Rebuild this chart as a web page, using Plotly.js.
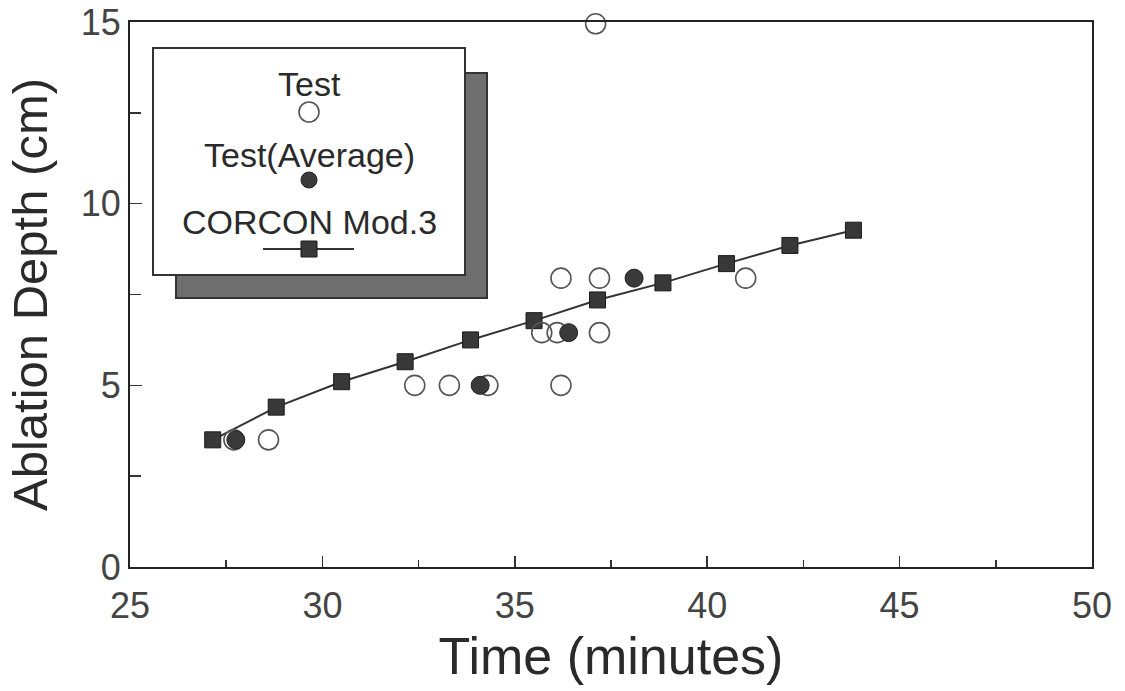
<!DOCTYPE html>
<html>
<head>
<meta charset="utf-8">
<script src="https://cdn.plot.ly/plotly-3.0.1.min.js"></script>
<style>
html,body{margin:0;padding:0;background:#fff;}
#chart{width:1125px;height:691px;}
</style>
</head>
<body>
<div id="chart"></div>
<script>
// Test (individual measurements)
var testTime  = [27.7, 28.6, 32.4, 33.3, 34.3, 36.2, 35.7, 36.1, 37.2, 36.2, 37.2, 41.0, 37.1];
var testDepth = [3.5, 3.5, 5.0, 5.0, 5.0, 5.0, 6.45, 6.45, 6.45, 7.95, 7.95, 7.95, 14.95];

// Test (Average)
var avgTime  = [27.75, 34.1, 36.4, 38.1];
var avgDepth = [3.5, 5.0, 6.45, 7.95];

// CORCON Mod.3 calculation
var corconTime  = [27.15, 28.8, 30.5, 32.15, 33.85, 35.5, 37.15, 38.85, 40.5, 42.15, 43.8];
var corconDepth = [3.5, 4.4, 5.1, 5.65, 6.25, 6.78, 7.35, 7.82, 8.35, 8.85, 9.27];

// Axis ticks and labels
var xTickVals = [25, 30, 35, 40, 45, 50];
var yTickVals = [0, 5, 10, 15];

// Legend labels
var legendLabels = ['Test', 'Test(Average)', 'CORCON Mod.3'];

var FONT = '"Liberation Sans", Arial, Helvetica, sans-serif';
var INK = '#2a2a2a';

var traces = [
  {
    x: corconTime, y: corconDepth, type: 'scatter', mode: 'lines+markers',
    name: legendLabels[2],
    line: {color: '#333', width: 2},
    marker: {symbol: 'square', size: 16, color: '#383838', line: {color: '#1a1a1a', width: 1}},
    cliponaxis: false
  },
  {
    x: testTime, y: testDepth, type: 'scatter', mode: 'markers',
    name: legendLabels[0],
    marker: {symbol: 'circle-open', size: 20, color: '#555', line: {color: '#555', width: 1.6}},
    cliponaxis: false
  },
  {
    x: avgTime, y: avgDepth, type: 'scatter', mode: 'markers',
    name: legendLabels[1],
    marker: {symbol: 'circle', size: 18, color: '#3a3a3a', line: {color: '#222', width: 1}},
    cliponaxis: false
  }
];

// legend drawn as a framed box with shadow (paper coordinates)
function px2paperX(p){ return (p - 130) / 962; }
function px2paperY(p){ return (567 - p) / 545; }
var legCx = px2paperX(309);

var shapes = [
  {type:'rect', xref:'paper', yref:'paper', x0:px2paperX(176), x1:px2paperX(487), y0:px2paperY(298), y1:px2paperY(73),
   fillcolor:'#6e6e6e', line:{color:'#333', width:2}, layer:'above'},
  {type:'rect', xref:'paper', yref:'paper', x0:px2paperX(153), x1:px2paperX(465), y0:px2paperY(275), y1:px2paperY(48),
   fillcolor:'#ffffff', line:{color:'#333', width:2}, layer:'above'},
  {type:'circle', xref:'paper', yref:'paper', xsizemode:'pixel', ysizemode:'pixel',
   xanchor:legCx, yanchor:px2paperY(112), x0:-10, x1:10, y0:-10, y1:10,
   line:{color:'#555', width:1.6}, fillcolor:'rgba(0,0,0,0)', layer:'above'},
  {type:'circle', xref:'paper', yref:'paper', xsizemode:'pixel', ysizemode:'pixel',
   xanchor:legCx, yanchor:px2paperY(180), x0:-8, x1:8, y0:-8, y1:8,
   line:{color:'#222', width:1}, fillcolor:'#3a3a3a', layer:'above'},
  {type:'line', xref:'paper', yref:'paper', x0:px2paperX(263), x1:px2paperX(354), y0:px2paperY(249), y1:px2paperY(249),
   line:{color:'#333', width:2}, layer:'above'},
  {type:'rect', xref:'paper', yref:'paper', xsizemode:'pixel', ysizemode:'pixel',
   xanchor:legCx, yanchor:px2paperY(249), x0:-8, x1:8, y0:-8, y1:8,
   line:{color:'#1a1a1a', width:1}, fillcolor:'#383838', layer:'above'}
];

var annotations = [
  {xref:'paper', yref:'paper', x:legCx, y:px2paperY(84), text:legendLabels[0], showarrow:false,
   xanchor:'center', yanchor:'middle', font:{family:FONT, size:34, color:INK}},
  {xref:'paper', yref:'paper', x:legCx, y:px2paperY(155), text:legendLabels[1], showarrow:false,
   xanchor:'center', yanchor:'middle', font:{family:FONT, size:34, color:INK}},
  {xref:'paper', yref:'paper', x:legCx, y:px2paperY(222), text:legendLabels[2], showarrow:false,
   xanchor:'center', yanchor:'middle', font:{family:FONT, size:34, color:INK}}
];

var layout = {
  width: 1125, height: 691,
  margin: {l:130, r:33, t:22, b:124},
  paper_bgcolor: '#fff', plot_bgcolor: '#fff',
  showlegend: false,
  font: {family: FONT, color: INK},
  xaxis: {
    range: [25, 50], tickvals: xTickVals, ticktext: xTickVals.map(String),
    ticks: 'inside', ticklen: 11, tickwidth: 1.5, tickcolor: '#333',
    minor: {dtick: 2.5, tick0: 25, ticks: 'inside', ticklen: 7, tickwidth: 1.5, tickcolor: '#333', showgrid: false},
    showline: true, linecolor: '#222', linewidth: 2, mirror: true,
    showgrid: false, zeroline: false,
    tickfont: {family: FONT, size: 36, color: '#444'},
    ticklabelstandoff: 6,
    title: {text: 'Time (minutes)', font: {family: FONT, size: 52, color: INK}, standoff: 12}
  },
  yaxis: {
    range: [0, 15], tickvals: yTickVals, ticktext: yTickVals.map(String),
    ticks: 'inside', ticklen: 12, tickwidth: 1.5, tickcolor: '#333',
    minor: {dtick: 2.5, tick0: 0, ticks: 'inside', ticklen: 11, tickwidth: 1.5, tickcolor: '#333', showgrid: false},
    showline: true, linecolor: '#222', linewidth: 2, mirror: true,
    showgrid: false, zeroline: false,
    tickfont: {family: FONT, size: 36, color: '#444'},
    title: {text: 'Ablation Depth (cm)', font: {family: FONT, size: 49, color: INK}, standoff: 18}
  },
  shapes: shapes,
  annotations: annotations
};

Plotly.newPlot('chart', traces, layout, {staticPlot: true, displayModeBar: false});
</script>
</body>
</html>
